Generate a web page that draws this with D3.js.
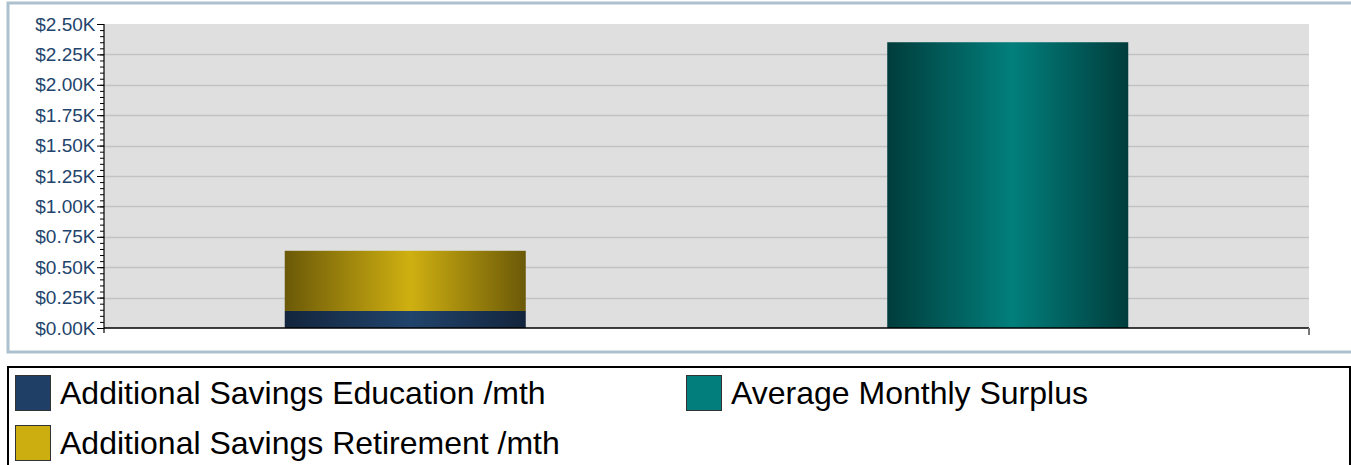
<!DOCTYPE html>
<html>
<head>
<meta charset="utf-8">
<script src="https://cdn.jsdelivr.net/npm/d3@7"></script>
<style>
  html, body { margin: 0; padding: 0; background: #fff; }
  svg { display: block; font-family: Arial, "Liberation Sans", sans-serif; }
</style>
</head>
<body>
<svg id="chart" width="1351" height="465"></svg>
<script>
// Chart data
const categories = ["Additional Savings", "Monthly Surplus"];
const seriesNames = ["Additional Savings Education /mth", "Additional Savings Retirement /mth", "Average Monthly Surplus"];
const educationValues = [140, 0];
const retirementValues = [495, 0];
const surplusValues = [0, 2350];
const yTickValues = [0, 250, 500, 750, 1000, 1250, 1500, 1750, 2000, 2250, 2500];
const yMinorStep = 50;

// Series colours: [edge, centre] for the bar shading, and the flat legend swatch
const seriesColors = [
  { edge: "#13253d", mid: "#21446c", swatch: "#1f3f66" },
  { edge: "#6b5908", mid: "#cfb011", swatch: "#ccae10" },
  { edge: "#003d3c", mid: "#027f7c", swatch: "#027f7c" }
];

const svg = d3.select("#chart");

// Outer panel frame
svg.append("rect")
  .attr("x", 8).attr("y", 3).attr("width", 1370).attr("height", 349)
  .attr("fill", "#fff").attr("stroke", "#adc0cd").attr("stroke-width", 3);

const plot = { left: 104, top: 24, right: 1309, bottom: 328 };

const x = d3.scaleBand().domain(categories).range([plot.left, plot.right]).padding(0);
const y = d3.scaleLinear().domain([0, 2500]).range([plot.bottom, plot.top]);
const barWidth = x.bandwidth() * 0.4;

// Gradients for the cylindrical shading
const defs = svg.append("defs");
seriesColors.forEach((c, i) => {
  const g = defs.append("linearGradient").attr("id", "grad" + i)
    .attr("x1", "0%").attr("x2", "100%").attr("y1", "0%").attr("y2", "0%");
  g.append("stop").attr("offset", "0%").attr("stop-color", c.edge);
  g.append("stop").attr("offset", "52%").attr("stop-color", c.mid);
  g.append("stop").attr("offset", "100%").attr("stop-color", c.edge);
});

// Plot background
svg.append("rect")
  .attr("x", plot.left).attr("y", plot.top)
  .attr("width", plot.right - plot.left).attr("height", plot.bottom - plot.top)
  .attr("fill", "#dfdfdf");

// Horizontal gridlines
svg.append("g").selectAll("line")
  .data(yTickValues.filter(d => d > 0 && d < 2500))
  .join("line")
  .attr("x1", plot.left).attr("x2", plot.right)
  .attr("y1", d => Math.round(y(d)) + 0.5).attr("y2", d => Math.round(y(d)) + 0.5)
  .attr("stroke", "#c2c2c2").attr("stroke-width", 1.5);

// Stacked bars
const rows = categories.map((c, i) => ({
  category: c,
  [seriesNames[0]]: educationValues[i],
  [seriesNames[1]]: retirementValues[i],
  [seriesNames[2]]: surplusValues[i]
}));
const stacked = d3.stack().keys(seriesNames)(rows);

svg.append("g").selectAll("g")
  .data(stacked)
  .join("g")
  .attr("fill", (d, i) => `url(#grad${i})`)
  .selectAll("rect")
  .data(d => d.filter(p => p[1] - p[0] > 0))
  .join("rect")
  .attr("x", d => x(d.data.category) + (x.bandwidth() - barWidth) / 2)
  .attr("width", barWidth)
  .attr("y", d => y(d[1]))
  .attr("height", d => y(d[0]) - y(d[1]));

// Y axis: minor ticks, then major ticks with labels
const minorTicks = d3.range(0, 2500 + yMinorStep, yMinorStep);
svg.append("g")
  .attr("transform", `translate(${plot.left},0)`)
  .call(d3.axisLeft(y).tickValues(minorTicks).tickSize(4).tickFormat(""))
  .call(g => g.select(".domain").remove())
  .call(g => g.selectAll("line").attr("stroke", "#000"));

const yAxis = svg.append("g")
  .attr("transform", `translate(${plot.left},0)`)
  .call(d3.axisLeft(y).tickValues(yTickValues).tickSize(7).tickPadding(1.5)
    .tickFormat(d => "$" + (d / 1000).toFixed(2) + "K"));
yAxis.select(".domain").attr("stroke", "#000").attr("stroke-width", 1.2)
  .attr("d", `M0,${plot.top}V${plot.bottom + 5}`);
yAxis.selectAll("line").attr("stroke", "#000");
yAxis.selectAll("text")
  .attr("fill", "#23446c").attr("font-size", 19)
  .attr("font-family", "Arial, 'Liberation Sans', sans-serif");

// X axis baseline with end tick
const xAxis = svg.append("g")
  .attr("transform", `translate(0,${plot.bottom})`)
  .call(d3.axisBottom(x).tickSize(0).tickFormat(""));
xAxis.select(".domain").attr("stroke", "#000").attr("stroke-width", 1.5)
  .attr("d", `M${plot.left},0H${plot.right}`);
svg.append("line")
  .attr("x1", plot.right).attr("x2", plot.right)
  .attr("y1", plot.bottom).attr("y2", plot.bottom + 7)
  .attr("stroke", "#777").attr("stroke-width", 2);

// Legend
svg.append("rect")
  .attr("x", 8).attr("y", 367).attr("width", 1342).attr("height", 130)
  .attr("fill", "#fff").attr("stroke", "#000").attr("stroke-width", 2);

const legendPos = [
  { x: 15, y: 375 },
  { x: 15, y: 425 },
  { x: 686, y: 375 }
];
const legend = svg.append("g").selectAll("g")
  .data(seriesNames)
  .join("g")
  .attr("transform", (d, i) => `translate(${legendPos[i].x},${legendPos[i].y})`);
legend.append("rect")
  .attr("x", 0.5).attr("y", 0.5).attr("width", 35).attr("height", 35)
  .attr("fill", (d, i) => seriesColors[i].swatch)
  .attr("stroke", "#333").attr("stroke-width", 1);
legend.append("text")
  .attr("x", 45).attr("y", 29)
  .attr("font-size", 32).attr("fill", "#000")
  .text(d => d);
</script>
</body>
</html>
